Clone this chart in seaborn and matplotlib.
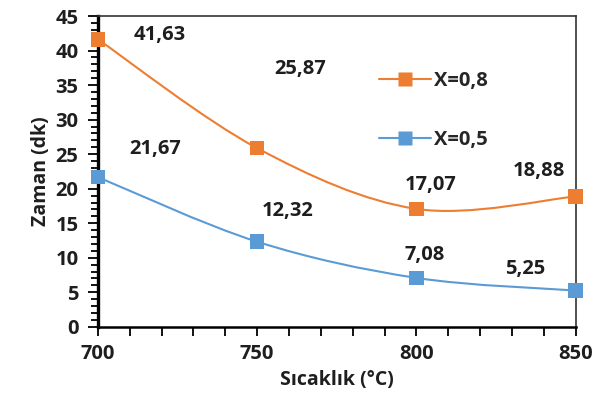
import numpy as np
import pandas as pd
import matplotlib
matplotlib.use("Agg")
import matplotlib.pyplot as plt
from matplotlib.path import Path
from matplotlib.patches import PathPatch
from matplotlib.lines import Line2D
from matplotlib.ticker import MultipleLocator
import seaborn as sns

# ---- DATOS ----
sicaklik = [700, 750, 800, 850]
zaman_08 = [41.63, 25.87, 17.07, 18.88]
zaman_05 = [21.67, 12.32, 7.08, 5.25]
etiket_08 = ["41,63", "25,87", "17,07", "18,88"]
etiket_05 = ["21,67", "12,32", "7,08", "5,25"]
seri_adlari = ["X=0,8", "X=0,5"]
renkler = ["#ED7D31", "#5B9BD5"]

# etiket konumlari (veri koordinatlari)
pos_08 = [(719.5, 42.3), (763.5, 37.4), (804.5, 20.6), (838.5, 22.5)]
pos_05 = [(718.0, 25.7), (759.5, 16.7), (802.5, 10.4), (834.0, 8.3)]


def smooth_path(xs, ys):
    """Excel benzeri yumusatilmis cizgi (Catmull-Rom -> Bezier)."""
    pts = np.column_stack([xs, ys]).astype(float)
    n = len(pts)
    verts = [pts[0]]
    codes = [Path.MOVETO]
    for i in range(n - 1):
        p0 = pts[max(i - 1, 0)]
        p1 = pts[i]
        p2 = pts[i + 1]
        p3 = pts[min(i + 2, n - 1)]
        c1 = p1 + (p2 - p0) / 6.0
        c2 = p2 - (p3 - p1) / 6.0
        verts += [c1, c2, p2]
        codes += [Path.CURVE4] * 3
    return Path(verts, codes)


sns.set_style("white")
plt.rcParams["font.family"] = ["Open Sans", "DejaVu Sans"]

TXT = "#1e1e1e"
FS = 14.5
W = "bold"

df = pd.DataFrame({
    "Sıcaklık": sicaklik * 2,
    "Zaman": zaman_08 + zaman_05,
    "Seri": [seri_adlari[0]] * 4 + [seri_adlari[1]] * 4,
})

fig = plt.figure(figsize=(6.08, 4.01), dpi=100)
ax = fig.add_axes([0.161, 0.185, 0.786, 0.775])

for ys, c in zip([zaman_08, zaman_05], renkler):
    ax.add_patch(PathPatch(smooth_path(sicaklik, ys), fill=False,
                           edgecolor=c, lw=1.5, zorder=2))

sns.scatterplot(data=df, x="Sıcaklık", y="Zaman", hue="Seri",
                palette=renkler, marker="s", s=110, edgecolor="none",
                legend=False, ax=ax, zorder=3, clip_on=False)

for lbls, poss in [(etiket_08, pos_08), (etiket_05, pos_05)]:
    for t, (px, py) in zip(lbls, poss):
        ax.text(px, py, t, ha="center", va="center", fontsize=FS,
                fontweight=W, color=TXT)

ax.set_xlim(700, 850)
ax.set_ylim(0, 45)
ax.xaxis.set_major_locator(MultipleLocator(50))
ax.xaxis.set_minor_locator(MultipleLocator(10))
ax.yaxis.set_major_locator(MultipleLocator(5))
ax.yaxis.set_minor_locator(MultipleLocator(1))

ax.tick_params(axis="x", which="both", direction="out", length=6.5,
               width=1.3, color="black", pad=6, labelsize=FS)
ax.tick_params(axis="y", which="major", direction="out", length=7,
               width=1.3, color="black", pad=7, labelsize=FS)
ax.tick_params(axis="y", which="minor", direction="out", length=5,
               width=1.3, color="black")
ax.tick_params(bottom=True, left=True, which="both")
for lab in ax.get_xticklabels() + ax.get_yticklabels():
    lab.set_fontweight(W)
    lab.set_color(TXT)

ax.spines["left"].set_linewidth(2.4)
ax.spines["left"].set_color("black")
ax.spines["bottom"].set_linewidth(1.8)
ax.spines["bottom"].set_color("black")
for s in ["top", "right"]:
    ax.spines[s].set_linewidth(1.2)
    ax.spines[s].set_color("#333333")

ax.set_xlabel("Sıcaklık (°C)", fontsize=14, fontweight=W,
              color=TXT, labelpad=4)
ax.set_ylabel("Zaman (dk)", fontsize=14, fontweight=W,
              color=TXT, labelpad=3)

handles = [Line2D([], [], color=c, lw=1.5, marker="s", markersize=10,
                  markeredgecolor="none") for c in renkler]
ax.legend(handles, seri_adlari, loc="upper left",
          bbox_to_anchor=(0.55, 0.88), frameon=False,
          prop={"weight": W, "size": FS}, handlelength=2.6,
          labelspacing=1.9, handletextpad=0.15)

fig.savefig("out.png", dpi=100)
